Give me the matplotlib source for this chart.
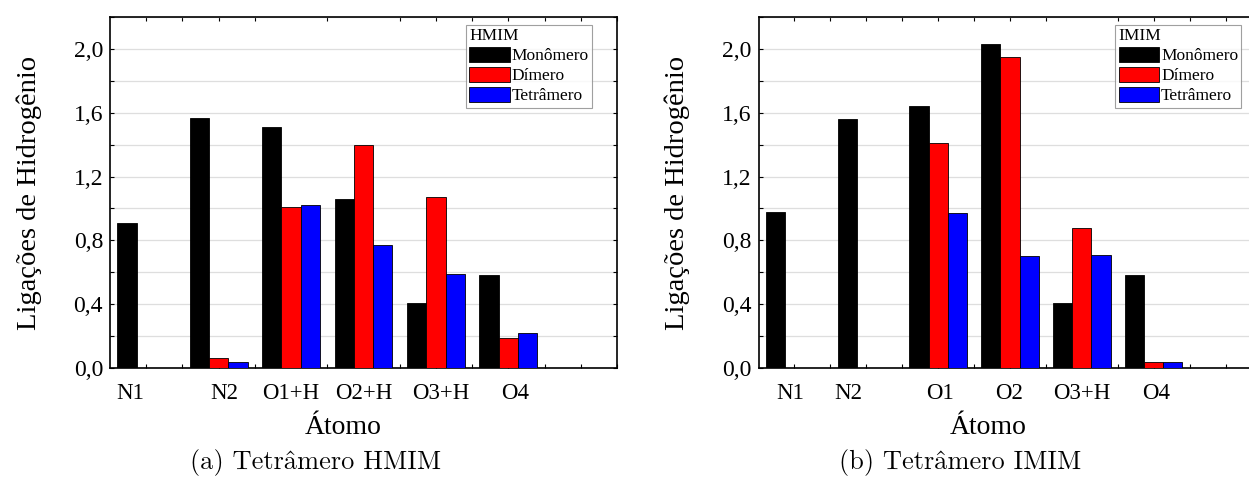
import numpy as np
import matplotlib
matplotlib.use("Agg")
import matplotlib.pyplot as plt
from matplotlib.ticker import MultipleLocator, FixedLocator
from matplotlib import font_manager as fm

plt.rcParams['font.family'] = ['Liberation Serif', 'DejaVu Serif']

# ------------------------------------------------------------------ #
#  Data                                                                #
# ------------------------------------------------------------------ #

series_names = ["Monômero", "Dímero", "Tetrâmero"]
series_colors = ["#000000", "#ff0000", "#0000ff"]

# (a) HMIM
hmim_atoms = ["N1", "N2", "O1+H", "O2+H", "O3+H", "O4"]
hmim_mono = [0.91, 1.57, 1.51, 1.06, 0.41, 0.58]
hmim_dim = [0.00, 0.06, 1.01, 1.40, 1.07, 0.19]
hmim_tetra = [0.00, 0.04, 1.02, 0.77, 0.59, 0.22]

# (b) IMIM
imim_atoms = ["N1", "N2", "O1", "O2", "O3+H", "O4"]
imim_mono = [0.98, 1.56, 1.64, 2.03, 0.41, 0.58]
imim_dim = [0.00, 0.00, 1.41, 1.95, 0.88, 0.04]
imim_tetra = [0.00, 0.00, 0.97, 0.70, 0.71, 0.04]

# where the category labels sit (they were placed by hand in the original)
hmim_label_pos = [-0.22, 1.08, 2.0, 3.0, 4.07, 5.1]
imim_label_pos = [-0.06, 0.75, 2.02, 2.98, 4.0, 5.04]

# ------------------------------------------------------------------ #
#  Plot                                                                #
# ------------------------------------------------------------------ #

W, H = 1249, 479
fig = plt.figure(figsize=(W / 100, H / 100), dpi=100)


def draw_panel(rect, atoms, values, label_pos, title, xlabel_x, legend_anchor):
    ax = fig.add_axes(rect)
    x = np.arange(len(atoms))
    bw = 0.8 / 3
    for k, (vals, name, col) in enumerate(zip(values, series_names, series_colors)):
        ax.bar(x + (k - 1) * bw, vals, width=bw, color=col, edgecolor="black",
               linewidth=0.6, label=name, zorder=3)

    ax.set_xlim(-0.5, 6.5)
    ax.set_ylim(0, 2.2)

    ax.yaxis.set_major_locator(MultipleLocator(0.4))
    ax.yaxis.set_minor_locator(MultipleLocator(0.2))
    ax.yaxis.set_major_formatter(lambda v, p: f"{v:.1f}".replace(".", ","))
    ax.grid(axis="y", which="both", color="#dedede", linewidth=0.9, zorder=0)

    ax.set_xticks(label_pos)
    ax.set_xticklabels(atoms)
    ax.xaxis.set_minor_locator(FixedLocator(np.arange(0, 6.6, 0.5)))
    ax.tick_params(axis="x", which="major", length=0, pad=11, labelsize=16.5)
    ax.tick_params(axis="x", which="minor", direction="in", top=True,
                   bottom=True, length=3, width=0.8)
    ax.tick_params(axis="y", which="both", direction="in", left=True,
                   right=True, length=3, width=0.8, labelsize=17, pad=5)

    for s in ax.spines.values():
        s.set_linewidth(1.2)

    ax.set_ylabel("Ligações de Hidrogênio", fontsize=20.5, labelpad=23)
    ax.set_xlabel("Átomo", fontsize=20, labelpad=8)
    ax.xaxis.label.set_x(xlabel_x)

    leg = ax.legend(title=title, loc="upper right", bbox_to_anchor=legend_anchor,
                    fontsize=12.5, title_fontsize=12.5, frameon=True, fancybox=False,
                    edgecolor="#888888", handlelength=2.35, handleheight=0.95,
                    handletextpad=0.1, labelspacing=0.15, borderpad=0.18,
                    borderaxespad=0.0)
    leg._legend_box.align = "left"
    leg.get_frame().set_linewidth(0.8)
    return ax


draw_panel([110 / W, 1 - 368 / H, 507 / W, 351 / H],
           hmim_atoms, [hmim_mono, hmim_dim, hmim_tetra], hmim_label_pos,
           "HMIM", 0.46, (0.951, 0.977))
draw_panel([758.5 / W, 1 - 368 / H, 503 / W, 351 / H],
           imim_atoms, [imim_mono, imim_dim, imim_tetra], imim_label_pos,
           "IMIM", 0.457, (0.96, 0.977))

# captions in a Computer Modern look-alike if one is installed
installed = {f.name for f in fm.fontManager.ttflist}
cap_font = [f for f in ["CMU Serif", "Latin Modern Roman", "LMRoman10",
                        "Computer Modern", "Liberation Serif"] if f in installed]
fig.text(316 / W, 1 - 462 / H, "(a) Tetrâmero HMIM", ha="center", va="center",
         fontsize=19, family=cap_font)
fig.text(960 / W, 1 - 462 / H, "(b) Tetrâmero IMIM", ha="center", va="center",
         fontsize=19, family=cap_font)

fig.savefig("out.png", dpi=100)
